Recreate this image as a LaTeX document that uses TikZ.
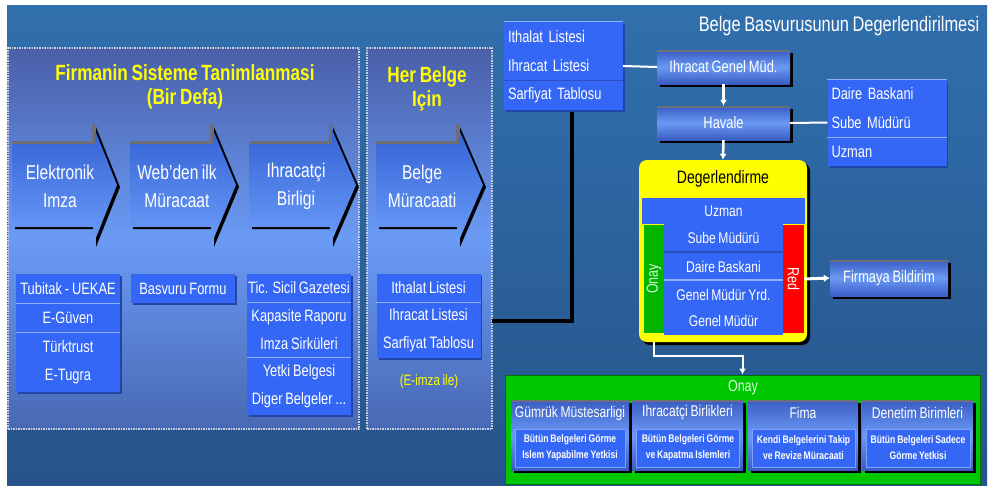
\documentclass[tikz,border=0pt]{standalone}
\usepackage{fontspec}
\setmainfont{Liberation Sans}[FakeStretch=0.78,WordSpace=0.8]
\usetikzlibrary{arrows.meta,shadows}
\definecolor{bgtop}{HTML}{3070AD}
\definecolor{bgbot}{HTML}{27548A}
\definecolor{ptop}{HTML}{4A5FA8}
\definecolor{pmid}{HTML}{6B9BF5}
\definecolor{pbot}{HTML}{4868B2}
\definecolor{dotc}{HTML}{C8D0E0}
\definecolor{lboxc}{HTML}{3567F6}
\definecolor{lsepl}{HTML}{8FB0FF}
\definecolor{lsepd}{HTML}{2A4DC0}
\definecolor{lshad}{HTML}{2445A8}
\definecolor{atop}{HTML}{3260D4}
\definecolor{abot}{HTML}{6C9EFA}
\definecolor{gtop}{HTML}{3A5CC4}
\definecolor{gmid}{HTML}{6A9AF4}
\definecolor{gedge}{HTML}{6E6E78}
\definecolor{ygold}{HTML}{FFFF00}
\definecolor{gbright}{HTML}{00C800}
\definecolor{gbar}{HTML}{00B400}
\definecolor{rbar}{HTML}{FF0000}
\definecolor{ibord}{HTML}{7FA0FF}
\definecolor{paleg}{HTML}{D8FFD8}
\newcommand\blkarrow[3]{%
  \fill[black,shift={(3,2)}] (#1,143) -- (#2,143) -- (#2,125) -- (#3,185) -- (#2,245) -- (#2,227) -- (#1,227) -- cycle;
  \shade[top color=atop,bottom color=abot] (#1,143) -- (#2,143) -- (#2,125) -- (#3,185) -- (#2,245) -- (#2,227) -- (#1,227) -- cycle;
  \draw[line width=3pt,gedge] (#1,142) -- (#2,142) -- (#2,124);
}
\begin{document}
\begin{tikzpicture}[x=1pt,y=-1pt,
  panel/.style={top color=ptop,bottom color=pbot,middle color=pmid,draw=dotc,densely dotted,line width=1.5pt,inner sep=0pt},
  lrow/.style={fill=lboxc,text=white,inner sep=0pt,minimum width=104pt,align=center,font=\fontsize{16.5}{28}\selectfont},
  lrowl/.style={fill=lboxc,text=white,inner xsep=4pt,inner ysep=0pt,text width=111pt,align=left,font=\fontsize{16.5}{28}\selectfont},
  gbox/.style={top color=gtop,bottom color=gtop,middle color=gmid,text=white,inner sep=0pt,
    drop shadow={shadow xshift=3pt,shadow yshift=-3pt,fill=black,opacity=1},
    path picture={\draw[line width=4pt,gedge] (path picture bounding box.north west) -- (path picture bounding box.north east);},
    font=\fontsize{16.5}{18}\selectfont},
  ytitle/.style={text=ygold,align=center,font=\bfseries\fontsize{22}{24}\selectfont},
  atext/.style={text=white,align=center,font=\fontsize{20}{28}\selectfont},
  dtext/.style={text=white,font=\fontsize{15.5}{18}\selectfont},
  ibox/.style={fill=lboxc,draw=ibord,line width=1pt,text=white,inner sep=0pt,align=center,font=\bfseries\fontsize{11}{16}\selectfont},
  sepl/.style={lsepl,line width=1.2pt},
  sepd/.style={lsepd,line width=1.2pt},
  wline/.style={white,line width=2pt},
  warrow/.style={white,line width=2.5pt,-{Latex[length=6pt,width=7pt]}}
]
\useasboundingbox (0,0) rectangle (990,485);
\fill[white] (0,0) rectangle (990,485);
\shade[top color=bgtop,bottom color=bgbot] (7,5) rectangle (987,485);

% panels
\node[panel,minimum width=351pt,minimum height=381pt] (p1) at (183.5,238.5) {};
\node[panel,minimum width=125pt,minimum height=381pt] (p2) at (429.5,238.5) {};
\node[ytitle] (t1) at (185,87) {Firmanin Sisteme Tanimlanmasi\\(Bir Defa)};
\node[ytitle] (t2) at (427,89) {Her Belge\\Için};

% block arrows
\blkarrow{12}{93}{117}
\blkarrow{130}{211}{236}
\blkarrow{249}{330}{356}
\blkarrow{376}{457}{483}
\node[atext] (a1) at (60,186) {Elektronik\\Imza};
\node[atext] (a2) at (177,186) {Web'den ilk\\Müracaat};
\node[atext] (a3) at (296,186) {Ihracatçi\\Birligi};
\node[atext] (a4) at (422,186) {Belge\\Müracaati};

% list shadows
\fill[lshad] (18,276) rectangle (122,394);
\fill[lshad] (133,276) rectangle (237,305);
\fill[lshad] (249,276) rectangle (353,417);
\fill[lshad] (379,276) rectangle (482,360);

% column 1
\node[lrow,minimum height=29pt] (c1a) at (68,288.5) {Tubitak - UEKAE};
\node[lrow,minimum height=29pt] (c1b) at (68,317.5) {E-Güven};
\node[lrow,minimum height=30pt] (c1c) at (68,347) {Türktrust};
\node[lrow,minimum height=30pt] (c1d) at (68,377) {E-Tugra};
\draw[sepl] (c1a.south west) -- (c1a.south east);
\draw[sepl] (c1b.south west) -- (c1b.south east);
% column 2
\node[lrow,minimum height=29pt] (c2a) at (183,288.5) {Basvuru Formu};
% column 3
\node[lrow,minimum height=28pt] (c3a) at (299,288) {Tic. Sicil Gazetesi};
\node[lrow,minimum height=55pt] (c3b) at (299,329.5) {Kapasite Raporu\\Imza Sirküleri};
\node[lrow,minimum height=58pt] (c3c) at (299,386) {Yetki Belgesi\\Diger Belgeler ...};
\draw[sepl] (c3a.south west) -- (c3a.south east);
\draw[sepl] (c3b.south west) -- (c3b.south east);
% column 4
\node[lrow,minimum height=28pt] (c4a) at (428.5,288) {Ithalat Listesi};
\node[lrow,minimum height=56pt] (c4b) at (428.5,330) {Ihracat Listesi\\Sarfiyat Tablosu};
\draw[sepl] (c4a.south west) -- (c4a.south east);
\node[text=ygold,font=\fontsize{15}{18}\selectfont] (eimza) at (429,382) {(E-imza ile)};

% black connector
\coordinate (blk1) at (492,321);
\coordinate (blk2) at (572,110);
\draw[black,line width=3.5pt] (blk1) -| (blk2);

% top-right list
\fill[lshad] (506,24) rectangle (625,112);
\node[lrowl,minimum height=30pt] (tr1) at (563.5,37) {Ithalat Listesi};
\node[lrowl,minimum height=28pt] (tr2) at (563.5,66) {Ihracat Listesi};
\node[lrowl,minimum height=30pt] (tr3) at (563.5,95) {Sarfiyat Tablosu};
\draw[sepd] (tr2.south west) -- (tr2.south east);
\draw[sepl] (tr1.north west) -- (tr1.north east);

\node[text=white,font=\fontsize{21}{24}\selectfont] (ttl) at (839,26) {Belge Basvurusunun Degerlendirilmesi};

% evaluation chain
\node[gbox,minimum width=133pt,minimum height=34pt] (igm) at (723.5,67) {Ihracat Genel Müd.};
\node[gbox,minimum width=133pt,minimum height=34pt] (hav) at (723.5,123) {Havale};
\draw[wline] (tr2.east) -- (igm.west);
\draw[warrow] (igm.south) -- (hav.north);

\fill[lshad] (830,82) rectangle (948,168);
\node[lrowl,minimum height=28pt] (dl1) at (887,94) {Daire Baskani};
\node[lrowl,minimum height=29pt] (dl2) at (887,122.5) {Sube Müdürü};
\node[lrowl,minimum height=29pt] (dl3) at (887,151.5) {Uzman};
\draw[sepl] (dl2.south west) -- (dl2.south east);
\draw[sepl] (dl1.north west) -- (dl1.north east);
\draw[wline] (hav.east) -- (dl2.west);

% Degerlendirme
\node[fill=ygold,rounded corners=8pt,minimum width=168pt,minimum height=182pt,inner sep=0pt,
  drop shadow={shadow xshift=3pt,shadow yshift=-3pt,fill=black,opacity=1}] (deg) at (723,251) {};
\draw[warrow] (hav.south) -- (deg.north);
\node[text=black,font=\fontsize{18}{20}\selectfont] (degt) at (723,179) {Degerlendirme};
\node[fill=lboxc,minimum width=163pt,minimum height=26pt,inner sep=0pt,dtext] (duz) at (723.5,211) {Uzman};
\node[fill=lboxc,minimum width=119pt,minimum height=111pt,inner sep=0pt] (dmid) at (723.5,279.5) {};
\node[dtext] (d1) at (723.5,238) {Sube Müdürü};
\node[dtext] (d2) at (723.5,267) {Daire Baskani};
\node[dtext] (d3) at (723.5,295) {Genel Müdür Yrd.};
\node[dtext] (d4) at (723.5,321) {Genel Müdür};
\draw[lsepd,line width=1.5pt] (664,252) -- (783,252);
\draw[sepl] (664,280) -- (783,280);
\node[fill=gbar,minimum width=20pt,minimum height=108pt,inner sep=0pt] (onb) at (654,279) {};
\node[rotate=90,text=paleg,font=\fontsize{16}{18}\selectfont] (onbt) at (654,279) {Onay};
\node[fill=rbar,minimum width=21pt,minimum height=108pt,inner sep=0pt] (rdb) at (793.5,279) {};
\node[rotate=-90,text=white,font=\fontsize{16}{18}\selectfont] (rdbt) at (793.5,279) {Red};

\node[gbox,minimum width=118pt,minimum height=36pt] (fb) at (889,278) {Firmaya Bildirim};
\draw[white,line width=3pt,-{Latex[length=6pt,width=8pt]}] (rdb.east) -- (fb.west);

% Onay area
\node[fill=gbright,draw=black!45!gbright,line width=1pt,minimum width=475pt,minimum height=109pt,inner sep=0pt] (gon) at (742.5,429.5) {};
\draw[wline,-{Latex[length=6pt,width=7pt]}] (onb.south |- deg.south) -- ++(0,14) -| (gon.north);
\node[text=paleg,font=\fontsize{16}{18}\selectfont] (gont) at (743,388) {Onay};

\node[gbox,minimum width=118pt,minimum height=70pt] (s1) at (570,435) {};
\node[gbox,minimum width=111pt,minimum height=70pt] (s2) at (687.5,435) {};
\node[gbox,minimum width=110pt,minimum height=70pt] (s3) at (803,435) {};
\node[gbox,minimum width=111pt,minimum height=70pt] (s4) at (917.5,435) {};
\node[text=white,font=\fontsize{15.5}{18}\selectfont] (s1t) at (570,413) {Gümrük Müstesarligi};
\node[text=white,font=\fontsize{15.5}{18}\selectfont] (s2t) at (687.5,413) {Ihracatçi Birlikleri};
\node[text=white,font=\fontsize{15.5}{18}\selectfont] (s3t) at (803,413) {Fima};
\node[text=white,font=\fontsize{15.5}{18}\selectfont] (s4t) at (917.5,413) {Denetim Birimleri};
\node[ibox,minimum width=110pt,minimum height=38pt] (s1i) at (570,448) {Bütün Belgeleri Görme\\Islem Yapabilme Yetkisi};
\node[ibox,minimum width=103pt,minimum height=38pt] (s2i) at (688,448) {Bütün Belgeleri Görme\\ve Kapatma Islemleri};
\node[ibox,minimum width=103pt,minimum height=38pt] (s3i) at (803.5,448) {Kendi Belgelerini Takip\\ve Revize Müracaati};
\node[ibox,minimum width=104pt,minimum height=38pt] (s4i) at (918,448) {Bütün Belgeleri Sadece\\Görme Yetkisi};
\end{tikzpicture}
\end{document}
